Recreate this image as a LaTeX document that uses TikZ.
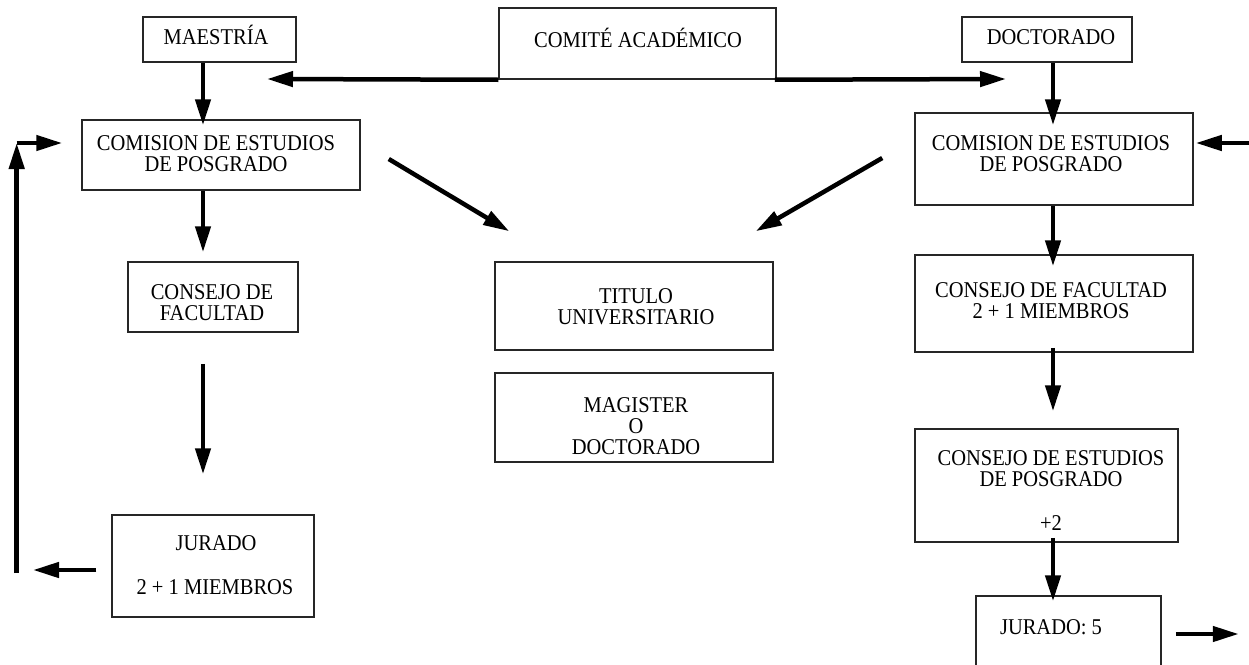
\documentclass[tikz,border=0pt]{standalone}
\usepackage{fontspec}
\setmainfont{Liberation Serif}
\usepackage{graphicx}
\usetikzlibrary{arrows.meta,calc}
\newcommand\tfont{\fontsize{20.5pt}{19pt}\selectfont}
\newcommand\stx[1]{\scalebox{1}[1.1]{\begin{tabular}[t]{@{}c@{}}#1\end{tabular}}}
\begin{document}
\begin{tikzpicture}[x=1pt,y=-1pt,
  box/.style={draw=black!85, line width=1.5pt, inner sep=0pt, rectangle},
  txt/.style={inner sep=0pt, anchor=base, font=\tfont},
  arr/.style={line width=4.5pt, -{Triangle[length=26pt,width=15pt]}}]
\useasboundingbox (0,0) rectangle (1249,664);
\clip (0,0) rectangle (1249,664);
\fill[white] (0,0) rectangle (1249,664);
% boxes
\node[box, minimum width=153pt, minimum height=45pt] (mae) at (219.5,39.5) {};
\node[box, minimum width=277pt, minimum height=71pt] (com) at (637.5,43.5) {};
\node[box, minimum width=170pt, minimum height=45pt] (doc) at (1047,39.5) {};
\node[box, minimum width=278pt, minimum height=70pt] (cepL) at (221,155) {};
\node[box, minimum width=278pt, minimum height=92pt] (cepR) at (1054,159) {};
\node[box, minimum width=170pt, minimum height=70pt] (cfL) at (213,297) {};
\node[box, minimum width=278pt, minimum height=97pt] (cfR) at (1054,303.5) {};
\node[box, minimum width=263pt, minimum height=113pt] (ceR) at (1046.5,485.5) {};
\node[box, minimum width=202pt, minimum height=102pt] (jurL) at (213,566) {};
\node[box, minimum width=185pt, minimum height=94pt] (jur5) at (1068.5,643) {};
\node[box, minimum width=278pt, minimum height=88pt] (tit) at (634,306) {};
\node[box, minimum width=278pt, minimum height=89pt] (mag) at (634,417.5) {};
% texts
\node[txt] (tmae) at (216,44.5) {\stx{MAESTRÍA}};
\node[txt] (tcom) at (638,47) {\stx{COMITÉ ACADÉMICO}};
\node[txt] (tdoc) at (1051,44.5) {\stx{DOCTORADO}};
\node[txt] (tcepL) at (216,150.5) {\stx{COMISION DE ESTUDIOS\\DE POSGRADO}};
\node[txt] (tcepR) at (1051,150.5) {\stx{COMISION DE ESTUDIOS\\DE POSGRADO}};
\node[txt] (tcfL) at (212,299.5) {\stx{CONSEJO DE\\FACULTAD}};
\node[txt] (tcfR) at (1051,297.5) {\stx{CONSEJO DE FACULTAD\\2 + 1 MIEMBROS}};
\node[txt] (tceR) at (1051,465.5) {\stx{CONSEJO DE ESTUDIOS\\DE POSGRADO}};
\node[txt] (tplus) at (1051,530.5) {\stx{+2}};
\node[txt] (tjurL) at (216,550.5) {\stx{JURADO}};
\node[txt] (tjurL2) at (215,594.5) {\stx{2 + 1 MIEMBROS}};
\node[txt] (tjur5) at (1051,634.5) {\stx{JURADO: 5}};
\node[txt] (ttit) at (636,303.5) {\stx{TITULO\\UNIVERSITARIO}};
\node[txt] (tmag) at (636,412.5) {\stx{MAGISTER\\O\\DOCTORADO}};
% helper coordinates
\coordinate (xL) at (203,0);
\coordinate (xR) at (1053,0);
\coordinate (tA) at (267,79);
\coordinate (tB) at (1006,79);
\coordinate (lb) at (16.7,573);
\coordinate (lt) at (16.7,143);
\coordinate (la) at (33,570);
\coordinate (rEdge) at (1252,143);
% arrows
\draw[arr] (com.south west) -- (tA);
\draw[arr] ($(com.south east)+(-2,0)$) -- (tB);
\draw[arr] (xL |- mae.south) -- ($(xL |- cepL.north)+(0,6)$);
\draw[arr] (xR |- doc.south) -- ($(xR |- cepR.north)+(0,13)$);
\draw[arr] (xL |- cepL.south) -- ($(xL |- cfL.north)+(0,-9)$);
\draw[arr] (xR |- cepR.south) -- ($(xR |- cfR.north)+(0,12)$);
\draw[arr] ($(xL |- cfL.south)+(0,31)$) -- ($(xL |- jurL.north)+(0,-40)$);
\draw[arr] ($(xR |- cfR.south)+(0,-5)$) -- ($(xR |- ceR.north)+(0,-17)$);
\draw[arr] ($(xR |- ceR.south)+(0,-5)$) -- ($(xR |- jur5.north)+(0,6)$);
\draw[arr] ($(jurL.west)+(-15,4)$) -- (la);
\draw[arr] (lb) -- (lt);
\draw[arr] (lt) -- ($(cepL.west)+(-19,-12)$);
\draw[arr] (rEdge) -- ($(cepR.east)+(2,-16)$);
\draw[arr] ($(jur5.east)+(14,-9)$) -- ($(jur5.east)+(77,-9)$);
\draw[arr] ($(cepL.east)+(28,4)$) -- ($(tit.north west)+(15,-30)$);
\draw[arr] ($(cepR.west)+(-32,-1)$) -- ($(tit.north east)+(-18,-30)$);
\end{tikzpicture}
\end{document}
